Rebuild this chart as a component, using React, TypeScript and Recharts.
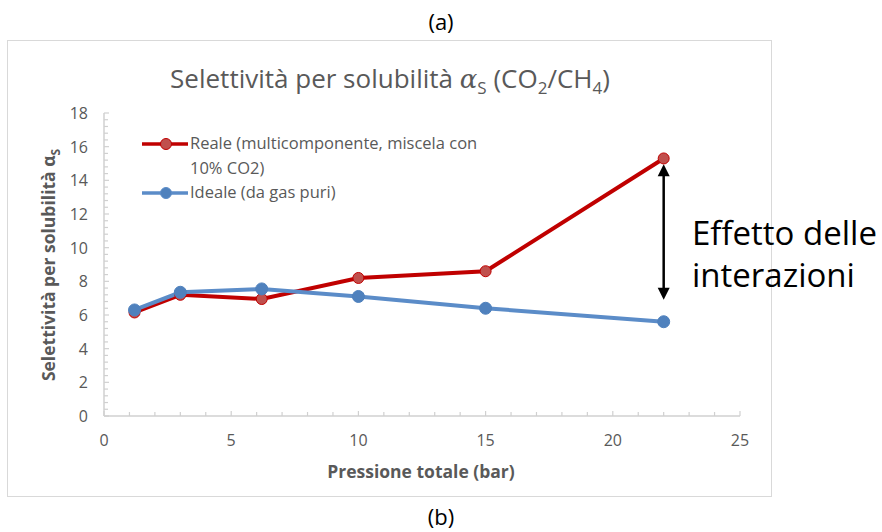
import React from "react";
import {
  LineChart,
  Line,
  XAxis,
  YAxis,
  ReferenceLine,
} from "recharts";

const pressures = [1.2, 3, 6.2, 10, 15, 22];
const realeValues = [6.15, 7.2, 6.95, 8.2, 8.6, 15.3];
const idealeValues = [6.3, 7.35, 7.55, 7.1, 6.4, 5.6];
const seriesNames = ["Reale (multicomponente, miscela con\n10% CO2)", "Ideale (da gas puri)"];

const xTicks = Array.from({ length: 26 }, (_, i) => i);
const yTicks = Array.from({ length: 46 }, (_, i) => Math.round(i * 0.4 * 10) / 10);

const data = pressures.map((p, i) => ({
  p,
  reale: realeValues[i],
  ideale: idealeValues[i],
}));

const FONT = "'Open Sans', 'DejaVu Sans', sans-serif";
const AXIS_GREY = "#595959";
const LINE_GREY = "#d0d0d0";
const RED = "#c00000";
const RED_DOT = "#c0504d";
const BLUE = "#5b8cc8";
const BLUE_DOT = "#4f81bd";

const legendItems = [
  { name: seriesNames[0], stroke: RED, fill: RED_DOT },
  { name: seriesNames[1], stroke: BLUE, fill: BLUE_DOT },
];

const XTick = (props: any) => {
  const { x, y, payload } = props;
  const v = payload.value as number;
  const major = v % 5 === 0;
  return (
    <g>
      <line x1={x} x2={x} y1={y} y2={y - (major ? 5 : 4)} stroke={LINE_GREY} strokeWidth={1.2} />
      {major && (
        <text x={x} y={y + 30} textAnchor="middle" fill={AXIS_GREY} fontSize={16} fontFamily={FONT}>
          {v}
        </text>
      )}
    </g>
  );
};

const YTick = (props: any) => {
  const { x, y, payload } = props;
  const v = payload.value as number;
  const major = Math.abs(v / 2 - Math.round(v / 2)) < 1e-6;
  return (
    <g>
      <line x1={x} x2={x + (major ? 5 : 4)} y1={y} y2={y} stroke={LINE_GREY} strokeWidth={1.2} />
      {major && (
        <text x={x - 16} y={y + 6} textAnchor="end" fill={AXIS_GREY} fontSize={16} fontFamily={FONT}>
          {v}
        </text>
      )}
    </g>
  );
};

// two-headed arrow between the real and ideal values at the last pressure
const DoubleArrow = (props: any) => {
  const { x1, y1, x2, y2 } = props;
  const top = Math.min(y1, y2);
  const bottom = Math.max(y1, y2);
  const x = x1 ?? x2;
  return (
    <g>
      <line x1={x} x2={x} y1={top + 10} y2={bottom - 10} stroke="#000" strokeWidth={2.5} />
      <polygon points={`${x},${top} ${x - 6},${top + 12} ${x + 6},${top + 12}`} fill="#000" />
      <polygon points={`${x},${bottom} ${x - 6},${bottom - 12} ${x + 6},${bottom - 12}`} fill="#000" />
    </g>
  );
};

const ChartLegend = () => (
  <div
    style={{
      position: "absolute",
      left: 142,
      top: 131,
      fontFamily: FONT,
      fontSize: 16.5,
      color: AXIS_GREY,
      lineHeight: "24.5px",
    }}
  >
    {legendItems.map((item) => (
      <div key={item.name} style={{ display: "flex", alignItems: "flex-start" }}>
        <svg width={48} height={24} style={{ flex: "none" }}>
          <line x1={0} x2={46} y1={13} y2={13} stroke={item.stroke} strokeWidth={3.5} />
          <circle cx={24} cy={13} r={5.5} fill={item.fill} stroke={item.stroke} strokeWidth={1} />
        </svg>
        <span style={{ whiteSpace: "pre-line" }}>{item.name}</span>
      </div>
    ))}
  </div>
);

export default function App() {
  return (
    <div style={{ position: "absolute", left: 0, top: 0, width: 882, height: 532, background: "#fff" }}>
      <div
        style={{
          position: "absolute",
          left: 7,
          top: 40,
          width: 763,
          height: 455,
          border: "1.5px solid #d9d9d9",
        }}
      />
      <LineChart
        width={882}
        height={532}
        data={data}
        margin={{ top: 113, right: 142, left: 0, bottom: 0 }}
        style={{ position: "absolute", left: 0, top: 0 }}
      >
        <XAxis
          dataKey="p"
          type="number"
          domain={[0, 25]}
          ticks={xTicks}
          interval={0}
          tickSize={0}
          tickMargin={0}
          tickLine={false}
          tick={<XTick />}
          axisLine={{ stroke: LINE_GREY, strokeWidth: 1.5 }}
          height={116}
        />
        <YAxis
          type="number"
          domain={[0, 18]}
          ticks={yTicks}
          interval={0}
          tickSize={0}
          tickMargin={0}
          tickLine={false}
          tick={<YTick />}
          axisLine={{ stroke: LINE_GREY, strokeWidth: 1.5 }}
          width={104}
        />
        <ReferenceLine
          segment={[
            { x: 22, y: 14.95 },
            { x: 22, y: 6.9 },
          ]}
          shape={<DoubleArrow />}
          ifOverflow="visible"
        />
        <Line
          dataKey="reale"
          name={seriesNames[0]}
          stroke={RED}
          strokeWidth={4}
          dot={{ r: 5.5, fill: RED_DOT, stroke: RED, strokeWidth: 1 }}
          isAnimationActive={false}
        />
        <Line
          dataKey="ideale"
          name={seriesNames[1]}
          stroke={BLUE}
          strokeWidth={4}
          dot={{ r: 6, fill: BLUE_DOT, stroke: BLUE_DOT, strokeWidth: 1 }}
          isAnimationActive={false}
        />
      </LineChart>
      <ChartLegend />
      <svg
        width={882}
        height={532}
        style={{ position: "absolute", left: 0, top: 0, pointerEvents: "none" }}
        fontFamily={FONT}
      >
        <text x={441} y={30} textAnchor="middle" fontSize={22} fill="#000">(a)</text>
        <text x={441} y={525} textAnchor="middle" fontSize={22} fill="#000">(b)</text>
        <text x={390} y={88} textAnchor="middle" fontSize={26} fill={AXIS_GREY}>
          Selettività per solubilità{" "}
          <tspan fontFamily="'DejaVu Serif', serif" fontStyle="italic">α</tspan>
          <tspan fontSize={17} dy={6}>S</tspan>
          <tspan dy={-6}> (CO</tspan>
          <tspan fontSize={17} dy={6}>2</tspan>
          <tspan dy={-6}>/CH</tspan>
          <tspan fontSize={17} dy={6}>4</tspan>
          <tspan dy={-6}>)</tspan>
        </text>
        <text
          transform="translate(55, 265) rotate(-90)"
          textAnchor="middle"
          fontSize={17.5}
          fontWeight="bold"
          fill={AXIS_GREY}
        >
          Selettività per solubilità α
          <tspan fontSize={12} dy={5}>S</tspan>
        </text>
        <text x={421} y={478} textAnchor="middle" fontSize={17.5} fontWeight="bold" fill={AXIS_GREY}>
          Pressione totale (bar)
        </text>
        <text x={692} y={245} fontSize={33} fill="#000">Effetto delle</text>
        <text x={692} y={287} fontSize={33} fill="#000">interazioni</text>
      </svg>
    </div>
  );
}
